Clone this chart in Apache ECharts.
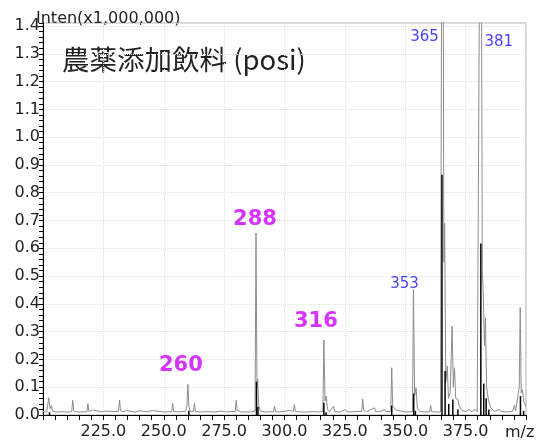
<!DOCTYPE html>
<html><head><meta charset="utf-8">
<script src="https://cdn.jsdelivr.net/npm/echarts@6/dist/echarts.min.js"></script>
<style>html,body{margin:0;padding:0;background:#fff}#c{width:537px;height:444px}</style>
</head><body><div id="c"></div>
<script>
// ---- data ----
const titleText = '農薬添加飲料 (posi)';
const yAxisTitle = 'Inten(x1,000,000)';
const xAxisTitle = 'm/z';
const xMin = 200, xMax = 400;
const yMin = 0, yMax = 1.411;

// profile trace (gray)
const profMz = [200.0,201.5,202.0,202.4,202.9,203.5,203.9,205.5,208,210,211.9,212.3,212.7,213.6,214.4,215.0,218.2,218.6,219.0,220.6,221.2,224,226.2,227,231.3,231.7,232.1,233,234.5,235.2,238,240,240.7,243,245.3,246,250,253.3,253.7,254.1,256,259.1,259.6,260.0,260.4,261,262.3,262.7,263.1,265,268,271,274,276,279.6,280.0,280.4,282,286,287.8,288.2,288.6,288.9,289.3,290,292,295.5,295.9,296.3,298,302.1,302.8,303.7,304.1,304.5,306,309,312,314,315.9,316.3,316.8,317.3,317.8,318.6,320.3,320.8,323,325.3,326,329,332.0,332.4,332.8,334,337.3,337.8,339.5,341.4,342,344.0,344.4,344.8,345.3,346.3,347,350,353.0,353.4,353.9,354.5,355,356,358,360.1,360.5,360.9,362.5,364.6,365.4,366.0,366.3,366.8,367.4,367.9,368.6,369.4,369.9,370.4,370.9,371.8,372.4,373.5,375,376.6,377.2,379.1,379.8,380.6,381.3,381.9,382.3,382.8,383.2,383.7,384.5,385.5,387,389,389.6,392,394.5,395.2,395.7,397.2,397.6,398.0,398.5,399.0,400];
const profInt = [0.012,0.011,0.014,0.062,0.022,0.034,0.014,0.011,0.012,0.010,0.012,0.053,0.015,0.012,0.017,0.011,0.012,0.041,0.013,0.018,0.011,0.012,0.014,0.011,0.012,0.053,0.016,0.012,0.016,0.011,0.011,0.015,0.011,0.012,0.016,0.011,0.011,0.012,0.041,0.013,0.011,0.014,0.035,0.11,0.03,0.013,0.014,0.041,0.013,0.011,0.012,0.011,0.014,0.011,0.013,0.053,0.016,0.011,0.011,0.014,0.655,0.1,0.128,0.035,0.014,0.011,0.012,0.032,0.012,0.011,0.016,0.011,0.013,0.038,0.013,0.011,0.011,0.012,0.011,0.013,0.27,0.05,0.068,0.02,0.012,0.031,0.012,0.011,0.02,0.011,0.012,0.013,0.058,0.018,0.012,0.026,0.012,0.012,0.02,0.012,0.014,0.17,0.03,0.024,0.018,0.011,0.011,0.012,0.451,0.07,0.098,0.025,0.013,0.011,0.012,0.035,0.012,0.011,0.011,2.8,0.55,0.69,0.12,0.176,0.06,0.08,0.32,0.1,0.17,0.06,0.056,0.03,0.016,0.012,0.02,0.012,0.02,0.011,0.011,2.5,0.52,0.44,0.25,0.35,0.1,0.05,0.025,0.013,0.02,0.012,0.011,0.013,0.035,0.015,0.1,0.387,0.08,0.092,0.05,0.03];

// centroid sticks (black)
const stickMz  = [202.7,260.4,288.4,289.0,316.3,317.2,344.4,353.5,354.2,365.2,366.5,368.0,369.7,371.8,381.3,382.5,383.5,384.6,397.7,399.0];
const stickInt = [0.01,0.015,0.12,0.03,0.044,0.01,0.034,0.077,0.015,0.865,0.158,0.04,0.056,0.02,0.617,0.113,0.06,0.02,0.068,0.015];

// peak annotations
const annMz   = [260.0, 288.2, 316.3, 353.4, 365.4, 381.3];
const annInt  = [0.11, 0.655, 0.27, 0.451, 2.8, 2.5];
const annText = ['260','288','316','353','365','381'];
const annKind = ['major','major','major','minor','minor','minor'];

// ---- styles / layout ----
const annOffset = {'260':[-7,-19],'288':[-1,-13],'316':[-8,-18],'353':[-9,-6],'365':[-18,14],'381':[18,19]};
const annStyle = {
  major:{color:'#cc00ff', fontSize:21, fontWeight:'bold', fontFamily:'DejaVu Sans'},
  minor:{color:'#1010ff', fontSize:15, fontWeight:'normal', fontFamily:'DejaVu Sans'}
};
const FONT = 'DejaVu Sans';

const chart = echarts.init(document.getElementById('c'), null, {renderer:'canvas'});
const isMult = (v, step) => Math.abs(v/step - Math.round(v/step)) < 1e-6;

const option = {
  animation:false,
  backgroundColor:'#fff',
  grid:{left:43, right:11, top:23, bottom:29, show:true, borderColor:'#a8a8a8', borderWidth:1, containLabel:false, outerBoundsMode:'none'},
  xAxis:[
    {type:'value', min:xMin, max:xMax, interval:25, position:'bottom',
     axisLine:{show:true, onZero:false, lineStyle:{color:'#000', width:1}},
     axisTick:{show:false},
     axisLabel:{color:'#222', fontSize:16, fontFamily:FONT, margin:9,
       formatter:v => (v>xMin && v<xMax && isMult(v,25)) ? v.toFixed(1) : ''},
     splitLine:{show:true, lineStyle:{color:'#e2e2e2', type:'dotted', width:1}}},
    {type:'value', min:xMin, max:xMax, interval:5, position:'bottom',
     axisLine:{show:false, onZero:false}, axisTick:{show:true, length:5, lineStyle:{color:'#000'}},
     axisLabel:{show:false}, splitLine:{show:false}}
  ],
  yAxis:[
    {type:'value', min:yMin, max:yMax, interval:0.1, position:'left',
     axisLine:{show:true, onZero:false, lineStyle:{color:'#000', width:1}},
     axisTick:{show:false},
     axisLabel:{color:'#222', fontSize:16, fontFamily:FONT, margin:3,
       formatter:v => isMult(v,0.1) ? v.toFixed(1) : ''},
     splitLine:{show:true, lineStyle:{color:'#e2e2e2', type:'dotted', width:1}}},
    {type:'value', min:yMin, max:yMax, interval:0.02, position:'left',
     axisLine:{show:false, onZero:false}, axisTick:{show:true, length:4, lineStyle:{color:'#000'}},
     axisLabel:{show:false}, splitLine:{show:false}}
  ],
  series:[
    {type:'line', xAxisIndex:0, yAxisIndex:0, data:profMz.map((m,i)=>[m, profInt[i]]),
     showSymbol:false, symbol:'none', clip:true, z:3,
     lineStyle:{color:'#8c8c8c', width:1}},
    {type:'custom', xAxisIndex:0, yAxisIndex:0, z:4, clip:true,
     data:stickMz.map((m,i)=>[m, stickInt[i]]),
     encode:{x:0, y:1},
     renderItem:(params, api) => {
       const p0 = api.coord([api.value(0), 0]);
       const p1 = api.coord([api.value(0), Math.min(api.value(1), yMax)]);
       return {type:'line', shape:{x1:p0[0], y1:p0[1], x2:p1[0], y2:p1[1]},
               style:{stroke:'#000', lineWidth:1.5}};
     }},
    {type:'scatter', xAxisIndex:0, yAxisIndex:0, symbolSize:0, z:5, clip:false,
     data:annMz.map((m,i)=>({
       value:[m, Math.min(annInt[i], yMax)],
       label:Object.assign({show:true, position:'inside', offset:annOffset[annText[i]],
         formatter:annText[i], align:'center', verticalAlign:'middle'}, annStyle[annKind[i]])
     }))}
  ],
  graphic:[
    {type:'text', x:62, y:60, style:{text:titleText, font:'27.5px "Noto Sans CJK JP"', fill:'#222', verticalAlign:'middle'}},
    {type:'text', x:36, y:18.5, style:{text:yAxisTitle, font:'16px "DejaVu Sans"', fill:'#222', verticalAlign:'middle'}},
    {type:'text', x:505, y:433, style:{text:xAxisTitle, font:'16px "DejaVu Sans"', fill:'#222', verticalAlign:'middle'}}
  ]
};
chart.setOption(option);
</script>
</body></html>
